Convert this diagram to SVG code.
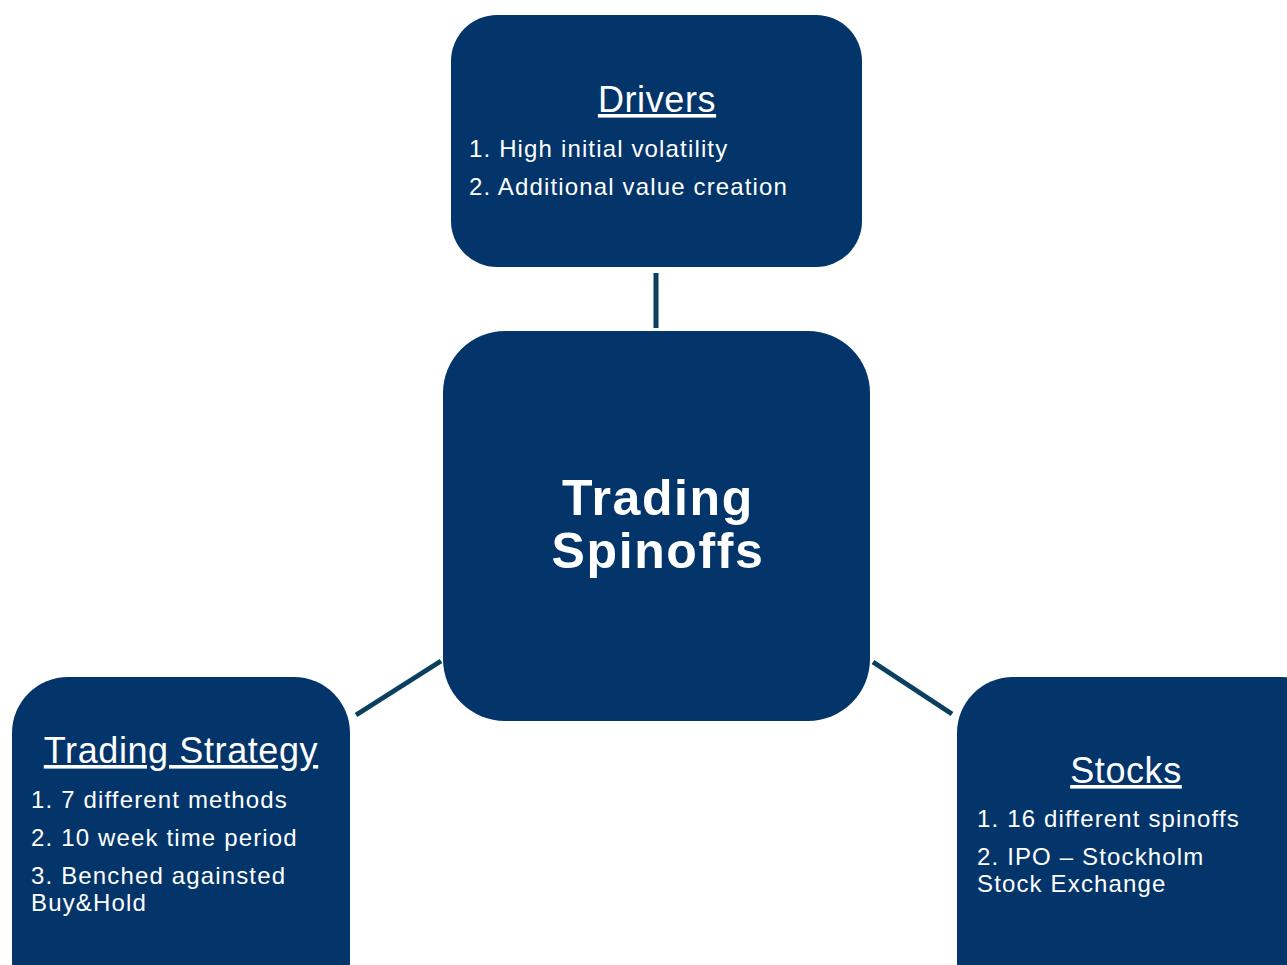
<svg xmlns="http://www.w3.org/2000/svg" width="1287" height="965" viewBox="0 0 1287 965">
  <style>
    .box { fill: #03356b; }
    .link { stroke: #0b3f5f; stroke-width: 5; fill: none; }
    .head { font-family: "Liberation Sans", Arial, sans-serif; font-size: 36px; letter-spacing: 0.6px; fill: #ffffff; text-anchor: middle; text-decoration: underline; }
    .item { font-family: "Liberation Sans", Arial, sans-serif; font-size: 24px; letter-spacing: 1.15px; fill: #ffffff; }
    .title { font-family: "Liberation Sans", Arial, sans-serif; font-size: 50px; letter-spacing: 1.6px; font-weight: bold; fill: #ffffff; text-anchor: middle; }
  </style>
  <rect width="1287" height="965" fill="#ffffff"/>

  <g id="connectors">
    <line class="link" x1="656" y1="273" x2="656" y2="328"/>
    <line class="link" x1="356" y1="715" x2="441" y2="661"/>
    <line class="link" x1="873" y1="662" x2="952" y2="714"/>
  </g>

  <g id="drivers">
    <rect class="box" x="451" y="15" width="411" height="252" rx="46"/>
    <text class="head" x="657" y="112">Drivers</text>
    <text class="item" x="469" y="157">1. High initial volatility</text>
    <text class="item" x="469" y="195">2. Additional value creation</text>
  </g>

  <g id="center">
    <rect class="box" x="443" y="331" width="427" height="390" rx="62"/>
    <text class="title" x="658" y="515">Trading</text>
    <text class="title" x="658" y="568">Spinoffs</text>
  </g>

  <g id="trading-strategy">
    <rect class="box" x="12" y="677" width="338" height="340" rx="56"/>
    <text class="head" x="181" y="763">Trading Strategy</text>
    <text class="item" x="31" y="808">1. 7 different methods</text>
    <text class="item" x="31" y="846">2. 10 week time period</text>
    <text class="item" x="31" y="884">3. Benched againsted</text>
    <text class="item" x="31" y="911">Buy&amp;Hold</text>
  </g>

  <g id="stocks">
    <rect class="box" x="957" y="677" width="380" height="340" rx="56"/>
    <text class="head" x="1126" y="783">Stocks</text>
    <text class="item" x="977" y="827">1. 16 different spinoffs</text>
    <text class="item" x="977" y="865">2. IPO – Stockholm</text>
    <text class="item" x="977" y="892">Stock Exchange</text>
  </g>
</svg>
